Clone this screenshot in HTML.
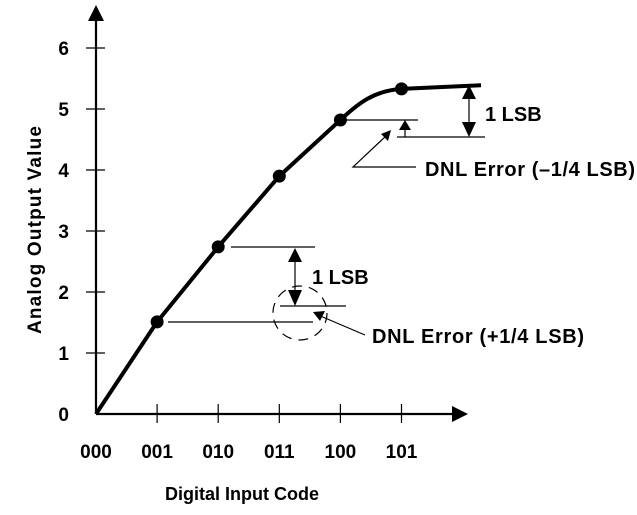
<!DOCTYPE html>
<html><head><meta charset="utf-8"><style>
html,body{margin:0;padding:0;background:#fff;}
svg text{font-family:"Liberation Sans",Arial,sans-serif;font-weight:bold;fill:#000;}
</style></head><body>
<svg id="chart" width="637" height="510" viewBox="0 0 637 510">
<g id="axes"></g>
<g id="series"></g>
<g id="annot" stroke="#000" fill="none" stroke-width="1.2">
  <line x1="168" y1="322" x2="313" y2="322"/>
  <line x1="231" y1="247" x2="315" y2="247"/>
  <line x1="280" y1="306" x2="346" y2="306"/>
  <circle cx="300" cy="313" r="27" stroke-dasharray="10,7"/>
  <line x1="295" y1="262" x2="295" y2="290"/>
  <polygon points="295,248 288,262 302,262" fill="#000" stroke="none"/>
  <polygon points="295,306 288,290 302,290" fill="#000" stroke="none"/>
  <line x1="365" y1="335" x2="318" y2="315"/>
  <polygon points="313,312 325,311 320,321" fill="#000" stroke="none"/>

  <line x1="346" y1="120" x2="418" y2="120"/>
  <line x1="397" y1="137" x2="485" y2="137"/>
  <line x1="469" y1="99" x2="469" y2="122"/>
  <polygon points="469,85 462,99 476,99" fill="#000" stroke="none"/>
  <polygon points="469,137 462,122 476,122" fill="#000" stroke="none"/>
  <line x1="405" y1="129" x2="405" y2="137"/>
  <polygon points="405,120 399,130 411,130" fill="#000" stroke="none"/>
  <polyline points="416,167 353,167 386,136"/>
  <polygon points="391,130 381,134 388,141" fill="#000" stroke="none"/>
</g>
<text x="312" y="284" font-size="20">1 LSB</text>
<text x="372" y="343" font-size="20" textLength="212">DNL Error (+1/4 LSB)</text>
<text x="485" y="121" font-size="20">1 LSB</text>
<text x="425" y="176" font-size="20" textLength="210">DNL Error (–1/4 LSB)</text>
<text x="242" y="500" font-size="18" text-anchor="middle">Digital Input Code</text>
<text transform="translate(41,230) rotate(-90)" font-size="19" text-anchor="middle" textLength="208">Analog Output Value</text>
</svg>
<script>
const codes = ["000","001","010","011","100","101"];
const values = [0, 1.51, 2.74, 3.9, 4.82, 5.33];
const endValue = 5.39;
const yTicks = [0,1,2,3,4,5,6];
const X0 = 96, Y0 = 414, DX = 61.1, DY = 61;
const xs = i => X0 + i*DX;
const ys = v => Y0 - v*DY;
const NS = "http://www.w3.org/2000/svg";
function mk(tag, attrs, parent){const e=document.createElementNS(NS,tag);for(const k in attrs)e.setAttribute(k,attrs[k]);parent.appendChild(e);return e;}
const axes = document.getElementById('axes');
const ser = document.getElementById('series');
let e;
e = mk('line',{x1:X0,y1:Y0,x2:X0,y2:20,stroke:'#000','stroke-width':2.2},axes);


e = mk('polygon',{points:`${X0},5 ${X0-8},21 ${X0+8},21`,fill:'#000'},axes);


e = mk('line',{x1:X0,y1:Y0,x2:452,y2:Y0,stroke:'#000','stroke-width':2.2},axes);


e = mk('polygon',{points:`468,${Y0} 452,${Y0-8} 452,${Y0+8}`,fill:'#000'},axes);


yTicks.forEach(v=>{
  if(v>0){
    const t=mk('line',{x1:X0-10,y1:ys(v),x2:X0+9,y2:ys(v),stroke:'#000','stroke-width':1.2},axes);
    
    
  }
  const l=mk('text',{x:69,y:ys(v)+7,'font-size':19,'text-anchor':'end'},axes);
  l.textContent=v;
  
  
});
codes.forEach((c,i)=>{
  if(i>0){
    const t=mk('line',{x1:xs(i),y1:Y0-10,x2:xs(i),y2:Y0+9,stroke:'#000','stroke-width':1.2},axes);
    
    
  }
  const l=mk('text',{x:xs(i),y:458,'font-size':19,'text-anchor':'middle'},axes);
  l.textContent=c;
  
  
});
let d=`M${xs(0)},${ys(values[0])}`;
for(let i=1;i<values.length-1;i++) d+=` L${xs(i)},${ys(values[i])}`;
const n=values.length-1;
const a=xs(n-1), b=xs(n);
d+=` C${a+(b-a)*0.3},${ys(values[n-1])-(b-a)*0.28} ${a+(b-a)*0.55},${ys(values[n])+2} ${b},${ys(values[n])} L481,${ys(endValue)}`;
e=mk('path',{d:d,fill:'none',stroke:'#000','stroke-width':4,'stroke-linejoin':'round'},ser);


values.forEach((v,i)=>{
  if(i===0) return;
  const p=mk('circle',{cx:xs(i),cy:ys(v),r:6.5,fill:'#000'},ser);
  
  
});
</script>
</body></html>
